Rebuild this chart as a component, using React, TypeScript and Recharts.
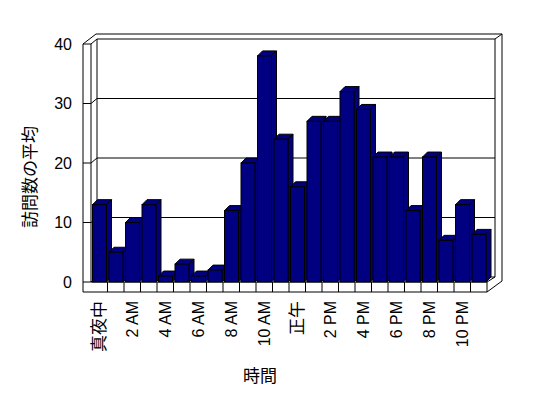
import React from "react";
import { BarChart, Bar, XAxis, YAxis, CartesianGrid } from "recharts";

const HOURS = [
  "真夜中", "1 AM", "2 AM", "3 AM", "4 AM", "5 AM", "6 AM", "7 AM",
  "8 AM", "9 AM", "10 AM", "11 AM", "正午", "1 PM", "2 PM", "3 PM",
  "4 PM", "5 PM", "6 PM", "7 PM", "8 PM", "9 PM", "10 PM", "11 PM",
];
const VISITS = [13, 5, 10, 13, 1, 3, 1, 2, 12, 20, 38, 24, 16, 27, 27, 32, 29, 21, 21, 12, 21, 7, 13, 8];
const Y_TICKS = [0, 10, 20, 30, 40];

const W = 548;
const H = 398;
// plot area (front face of the 3D box)
const L = 91;
const R = 487;
const T = 44;
const B = 282;
const DEPTH = 5; // bar depth
const WDX = 6; // back wall offset
const WDY = 5;
const BAR_COLOR = "#000080";
const FONT = "'Liberation Sans', 'Noto Sans CJK JP', sans-serif";

const data = HOURS.map((hour, i) => ({ hour, visits: VISITS[i] }));

const Bar3D = (props: any) => {
  const { x, y, width, height } = props;
  const d = DEPTH;
  return (
    <g stroke="#000" strokeWidth={1} fill={BAR_COLOR}>
      <path d={`M${x},${y} L${x + d},${y - d} L${x + width + d},${y - d} L${x + width},${y} Z`} />
      <path d={`M${x + width},${y} L${x + width + d},${y - d} L${x + width + d},${y + height - d} L${x + width},${y + height} Z`} />
      <rect x={x} y={y} width={width} height={height} />
    </g>
  );
};

// gridline on the back wall + tick on the left wall
const HLine = (p: any) => {
  const { x1, x2, y1 } = p;
  return (
    <g>
      <polyline
        points={`${x1 - 8},${y1} ${x1},${y1} ${x1 + WDX},${y1 - WDY}`}
        fill="none"
        stroke="#000"
      />
      <line x1={x1 + WDX} y1={y1 - WDY} x2={x2 + 8} y2={y1 - WDY} stroke="#000" />
    </g>
  );
};

// cell dividers on the floor
const VLine = (p: any) => {
  const { x1, y2 } = p;
  return <line x1={x1} y1={y2} x2={x1} y2={y2 + 10} stroke="#000" />;
};

const XTick = (props: any) => {
  const { x, payload } = props;
  const v = String(payload.value);
  const cjk = /[^\x00-\x7F]/.test(v);
  return (
    <text
      x={x}
      y={301}
      dy="0.35em"
      textAnchor="end"
      transform={`rotate(-90, ${x}, 301)`}
      fontSize={cjk ? 17 : 16}
      fontFamily={FONT}
      fill="#000"
    >
      {v}
    </text>
  );
};

const YTick = (props: any) => {
  const { y, payload } = props;
  return (
    <text x={L - 19} y={y} dy="0.35em" textAnchor="end" fontSize={16} fontFamily={FONT} fill="#000">
      {payload.value}
    </text>
  );
};

const Frame = () => (
  <svg width={W} height={H} style={{ position: "absolute", left: 0, top: 0 }}>
    <g stroke="#000" strokeWidth={1} fill="none">
      {/* left wall */}
      <line x1={L - 8} y1={T} x2={L - 8} y2={B + 10} />
      <line x1={L} y1={T} x2={L} y2={B} />
      <line x1={L + WDX} y1={T - WDY} x2={L + WDX} y2={B - WDY} />
      {/* outer top */}
      <polyline points={`${L - 8},${T} ${L + 5},${T - 10} ${R + 15},${T - 10} ${R + 15},${B - 1}`} />
      <line x1={R + 8} y1={T - WDY} x2={R + 15} y2={T - 10} />
      <line x1={R + 8} y1={T - WDY} x2={R + 8} y2={B - WDY} />
      {/* floor */}
      <line x1={L - 8} y1={B + 10} x2={R} y2={B + 10} />
      <line x1={L} y1={B} x2={R} y2={B} />
      <line x1={R} y1={B} x2={R} y2={B + 10} />
      <line x1={R} y1={B} x2={R + 8} y2={B - WDY} />
      <line x1={R} y1={B + 10} x2={R + 15} y2={B - 1} />
    </g>
    <text
      x={30}
      y={177}
      dy="0.35em"
      textAnchor="middle"
      transform="rotate(-90, 30, 177)"
      fontSize={17}
      fontFamily={FONT}
    >
      訪問数の平均
    </text>
    <text x={260} y={376} dy="0.35em" textAnchor="middle" fontSize={17} fontFamily={FONT}>
      時間
    </text>
  </svg>
);

export default function App() {
  return (
    <div style={{ position: "absolute", left: 0, top: 0, width: W, height: H, background: "#fff" }}>
      <Frame />
      <div style={{ position: "absolute", left: 0, top: 0 }}>
        <BarChart
          width={W}
          height={H}
          data={data}
          margin={{ top: T, right: W - R, bottom: H - B - 60, left: L - 60 }}
          barCategoryGap={1.5}
        >
          <CartesianGrid
            horizontal={HLine}
            vertical={VLine}
            verticalCoordinatesGenerator={({ offset }: any) =>
              HOURS.slice(1).map((_, i) => offset.left + ((i + 1) * offset.width) / HOURS.length)
            }
          />
          <XAxis
            dataKey="hour"
            interval={1}
            axisLine={false}
            tickLine={false}
            height={60}
            tick={XTick}
          />
          <YAxis
            domain={[0, 40]}
            ticks={Y_TICKS}
            axisLine={false}
            tickLine={false}
            width={60}
            tick={YTick}
          />
          <Bar dataKey="visits" shape={Bar3D} isAnimationActive={false} />
        </BarChart>
      </div>
    </div>
  );
}
